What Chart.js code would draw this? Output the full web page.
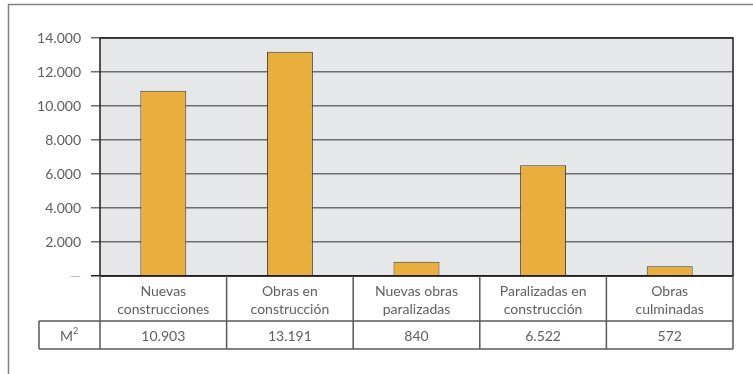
<!DOCTYPE html>
<html>
<head>
<meta charset="utf-8">
<script src="https://cdn.jsdelivr.net/npm/chart.js@4/dist/chart.umd.min.js"></script>
<style>
  body { margin: 0; background: #fff; }
  #wrap { width: 753px; height: 374px; }
</style>
</head>
<body>
<div id="wrap"><canvas id="chart" width="753" height="374"></canvas></div>
<script>
const categories = [
    ['Nuevas', 'construcciones'],
    ['Obras en', 'construcción'],
    ['Nuevas obras', 'paralizadas'],
    ['Paralizadas en', 'construcción'],
    ['Obras', 'culminadas']
];
const values = [10903, 13191, 840, 6522, 572];
const valueLabels = ['10.903', '13.191', '840', '6.522', '572'];
const rowLabel = 'M';
const rowLabelSup = '2';

const textColor = '#5f6062';
const lineColor = '#58595b';
const fontFamily = 'Lato, "Open Sans", sans-serif';

function formatTick(v) {
    if (v === 0) return '—';
    return v.toLocaleString('de-DE');
}

// frame, plot background, border and the data table under the bars
const tablePlugin = {
    id: 'tablePlugin',
    beforeDraw(chart) {
        const { ctx, chartArea: a } = chart;
        ctx.save();
        ctx.strokeStyle = '#808285';
        ctx.lineWidth = 1.5;
        ctx.beginPath();
        ctx.moveTo(8.5, 380);
        ctx.lineTo(8.5, 4.5);
        ctx.lineTo(760, 4.5);
        ctx.stroke();
        ctx.fillStyle = '#e6e7e8';
        ctx.fillRect(a.left, a.top, a.right - a.left, a.bottom - a.top);
        ctx.restore();
    },
    afterDatasetsDraw(chart) {
        const { ctx, chartArea: a, scales: { x } } = chart;
        ctx.save();
        ctx.strokeStyle = '#231f20';
        ctx.lineWidth = 1.5;
        ctx.strokeRect(a.left, a.top, a.right - a.left, a.bottom - a.top);

        const row1 = a.bottom + 45;
        const row2 = row1 + 28;
        const labelLeft = 39;
        const bounds = [a.left];
        for (let i = 0; i < categories.length - 1; i++) {
            bounds.push((x.getPixelForValue(i) + x.getPixelForValue(i + 1)) / 2);
        }
        bounds.push(a.right);

        ctx.strokeStyle = lineColor;
        ctx.lineWidth = 1.5;
        ctx.beginPath();
        bounds.forEach(b => { ctx.moveTo(b, a.bottom); ctx.lineTo(b, row2); });
        ctx.moveTo(labelLeft, row1); ctx.lineTo(a.right, row1);
        ctx.moveTo(labelLeft, row2); ctx.lineTo(a.right, row2);
        ctx.moveTo(labelLeft, row1); ctx.lineTo(labelLeft, row2);
        ctx.stroke();

        ctx.fillStyle = textColor;
        ctx.textAlign = 'center';
        ctx.textBaseline = 'middle';
        ctx.font = '14px ' + fontFamily;
        categories.forEach((lines, i) => {
            const cx = x.getPixelForValue(i);
            ctx.fillText(lines[0], cx, a.bottom + 15);
            ctx.fillText(lines[1], cx, a.bottom + 33);
            ctx.fillText(valueLabels[i], cx, (row1 + row2) / 2 + 1);
        });

        const mx = (labelLeft + a.left) / 2 - 3;
        ctx.fillText(rowLabel, mx, (row1 + row2) / 2 + 1);
        ctx.font = '9px ' + fontFamily;
        ctx.fillText(rowLabelSup, mx + 9, (row1 + row2) / 2 - 4);
        ctx.restore();
    }
};

new Chart(document.getElementById('chart'), {
    type: 'bar',
    data: {
        labels: categories,
        datasets: [{
            data: values,
            backgroundColor: '#e9ae3b',
            borderColor: '#3d3d3d',
            borderWidth: 1,
            categoryPercentage: 1,
            barPercentage: 0.363
        }]
    },
    options: {
        responsive: false,
        animation: false,
        layout: { padding: { left: 8, top: 38, right: 20, bottom: 98 } },
        plugins: { legend: { display: false }, tooltip: { enabled: false } },
        scales: {
            x: { display: false },
            y: {
                min: 0,
                max: 14000,
                afterFit(scale) { scale.width = 92; },
                border: { display: false },
                grid: {
                    color: c => c.tick && c.tick.value === 0 ? '#231f20' : '#6d6e71',
                    lineWidth: 1.5,
                    tickLength: 9
                },
                ticks: {
                    stepSize: 2000,
                    padding: 10,
                    color: c => c.tick && c.tick.value === 0 ? '#b1b3b6' : textColor,
                    font: { family: fontFamily, size: 14 },
                    callback: v => formatTick(v)
                }
            }
        }
    },
    plugins: [tablePlugin]
});
</script>
</body>
</html>
